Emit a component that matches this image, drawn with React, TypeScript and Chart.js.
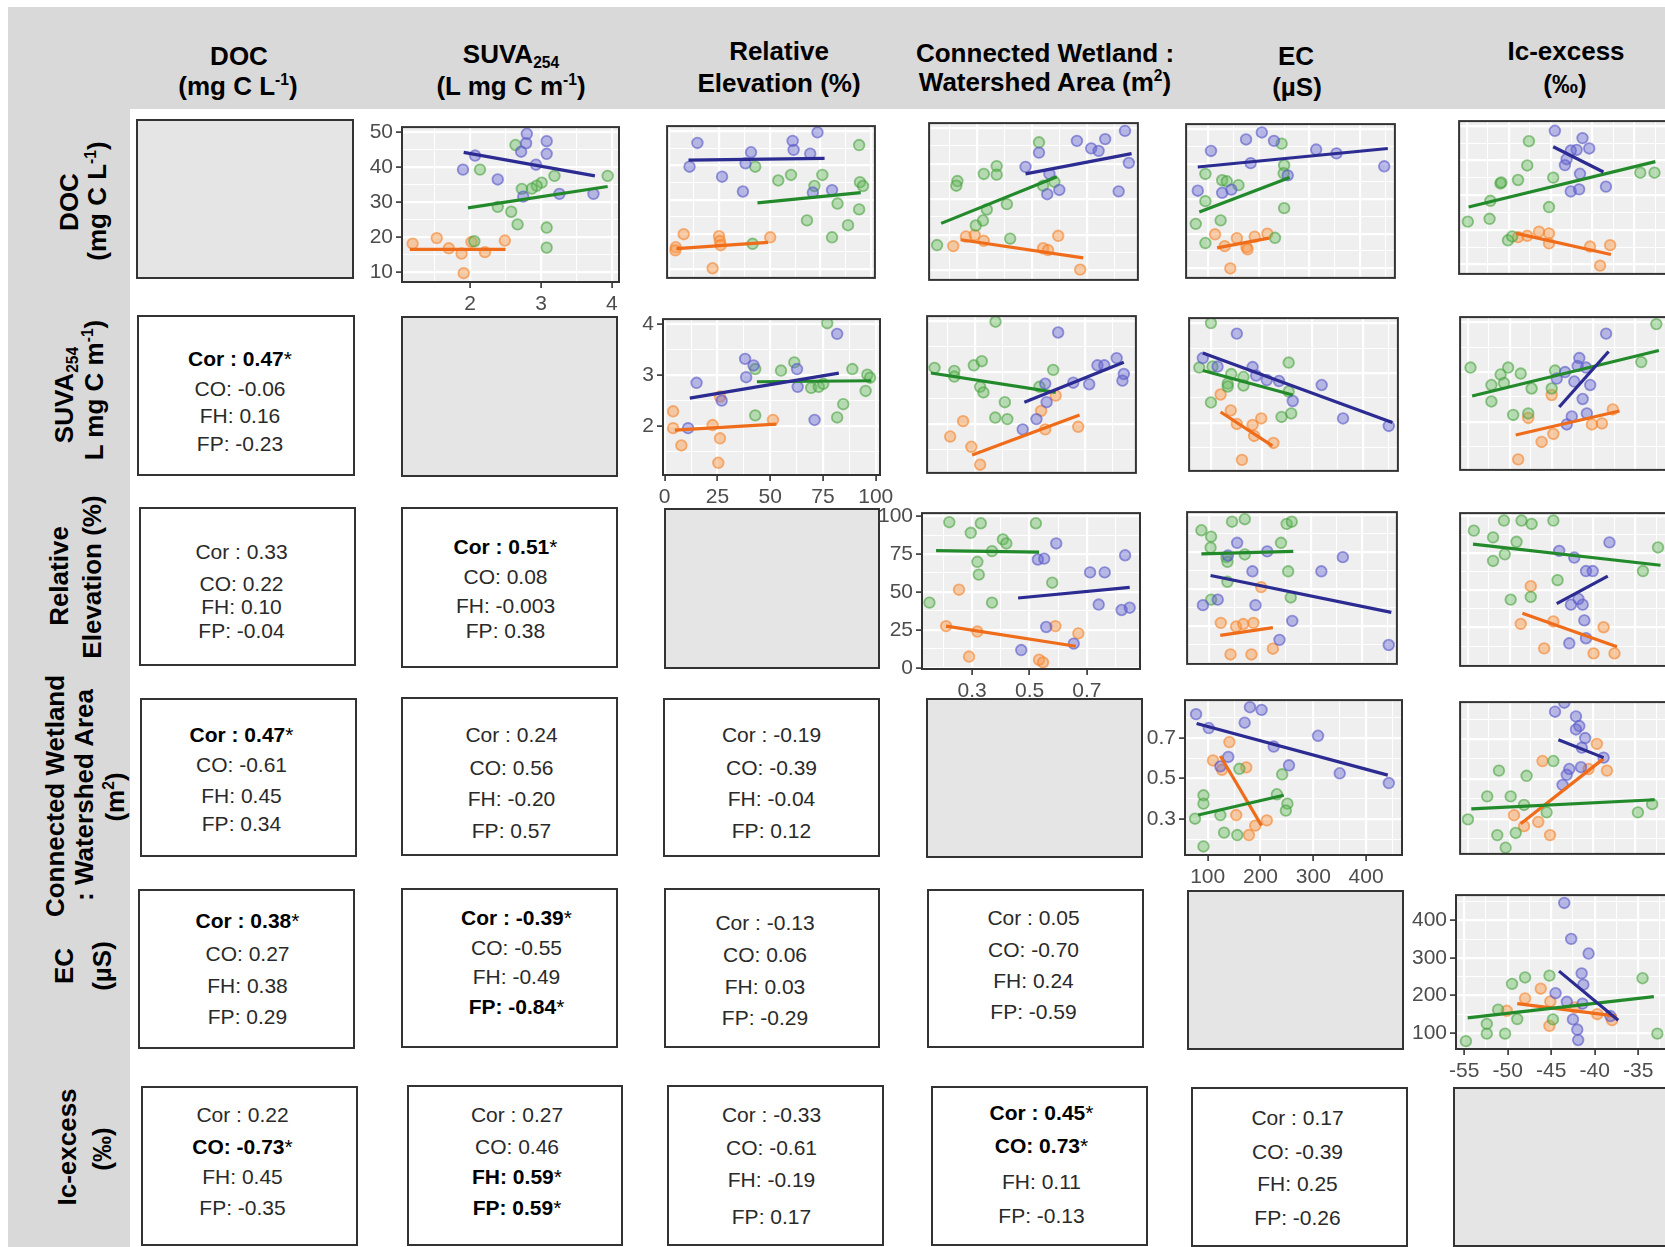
import React, { useEffect, useRef } from "react";
import { Chart, registerables } from "chart.js";

Chart.register(...registerables);

const FONT = '"Liberation Sans", Arial, Helvetica, sans-serif';

/* ---------- variable scales: range, major breaks, minor breaks ---------- */
const docRange = [7.3, 51.4];
const docBreaks = [10, 20, 30, 40, 50];
const docMinor = [15, 25, 35, 45];

const suvaRange = [1.04, 4.1];
const suvaBreaks = [2, 3, 4];
const suvaMinor = [1.5, 2.5, 3.5];

const relRange = [-0.8, 102];
const relBreaks = [0, 25, 50, 75, 100];
const relMinor = [12.5, 37.5, 62.5, 87.5];

const cwRange = [0.125, 0.885];
const cwBreaks = [0.3, 0.5, 0.7];
const cwMinor = [0.2, 0.4, 0.6, 0.8];

const ecRange = [57, 468];
const ecBreaks = [100, 200, 300, 400];
const ecMinor = [150, 250, 350, 450];

const icxRange = [-55.94, -31.0];
const icxBreaks = [-55, -50, -45, -40, -35];
const icxMinor = [-52.5, -47.5, -42.5, -37.5, -32.5];

const AXES: any = {
  DOC: { range: docRange, major: docBreaks, minor: docMinor },
  SUVA: { range: suvaRange, major: suvaBreaks, minor: suvaMinor },
  REL: { range: relRange, major: relBreaks, minor: relMinor },
  CW: { range: cwRange, major: cwBreaks, minor: cwMinor },
  EC: { range: ecRange, major: ecBreaks, minor: ecMinor },
  ICX: { range: icxRange, major: icxBreaks, minor: icxMinor },
};

/* ---------- groups ---------- */
const groups = ["CO", "FH", "FP"];
const pointFill = ["rgba(100,100,210,0.42)", "rgba(100,185,90,0.42)", "rgba(250,150,70,0.45)"];
const pointEdge = ["rgba(90,90,200,0.62)", "rgba(70,160,60,0.58)", "rgba(245,130,40,0.6)"];
const fitColor = ["#2b2b92", "#238a2b", "#ef6c1a"];

/* ---------- scatter data: [x, y] per site, fits: [x0, y0, x1, y1] ---------- */
// DOC vs SUVA254
const docSuvaCO = [[1.9, 39.3], [2.07, 43.3], [2.39, 36.5], [2.72, 44.4], [2.79, 46.8], [2.8, 49.5], [3.08, 47.4], [3.08, 43.8], [2.93, 40.7], [3.26, 32.4], [2.75, 31.6], [3.74, 32.4]];
const docSuvaFH = [[2.64, 46.3], [2.14, 39.3], [3.19, 37.5], [3.01, 35.6], [2.94, 34.7], [2.87, 33.9], [2.73, 33.8], [3.94, 37.5], [2.39, 28.7], [2.58, 27.3], [2.67, 23.7], [3.08, 22.8], [3.08, 17.1], [2.06, 18.9]];
const docSuvaFP = [[1.19, 18.2], [1.53, 19.8], [1.7, 16.9], [1.88, 15.4], [2.02, 18.7], [2.21, 15.8], [2.49, 19.1], [1.91, 9.8]];
const docSuvaFits = [[1.91, 44.2, 3.76, 37.5], [1.97, 28.4, 3.94, 34.5], [1.15, 16.6, 2.5, 16.6]];

// DOC vs relative elevation
const docRelCO = [[14.2, 46.5], [10.3, 39.6], [26.4, 36.7], [36.7, 32.4], [40.7, 43.8], [38.0, 40.6], [61.3, 47.1], [61.8, 44.5], [70.0, 43.4], [73.6, 49.6], [71.3, 32.1], [80.8, 32.8]];
const docRelFH = [[42.8, 39.6], [54.2, 35.6], [60.5, 37.2], [76.0, 37.2], [72.1, 34.0], [94.2, 45.9], [94.6, 35.1], [96.1, 34.0], [83.5, 28.9], [94.2, 27.2], [88.7, 22.6], [68.4, 24.0], [80.8, 19.1], [41.5, 17.2]];
const docRelFP = [[7.4, 20.0], [3.5, 16.2], [3.3, 15.3], [24.9, 19.4], [25.3, 18.0], [25.7, 16.8], [50.2, 19.1], [21.7, 10.1]];
const docRelFits = [[9.8, 41.5, 77.1, 42.0], [43.9, 29.1, 95.0, 32.1], [3.8, 15.8, 49.1, 17.6]];

// DOC vs connected wetland : watershed area
const docCwCO = [[0.663, 46.4], [0.715, 44.3], [0.742, 43.6], [0.766, 46.9], [0.838, 49.2], [0.852, 40.2], [0.476, 39.1], [0.563, 37.1], [0.555, 31.4], [0.599, 32.6], [0.815, 32.2], [0.525, 43.1]];
const docCwFH = [[0.525, 46.0], [0.371, 39.3], [0.371, 36.9], [0.324, 37.1], [0.228, 35.1], [0.224, 33.8], [0.408, 28.6], [0.335, 27.1], [0.321, 24.0], [0.295, 22.6], [0.581, 34.9], [0.54, 33.8], [0.154, 17.1], [0.42, 18.9]];
const docCwFP = [[0.213, 16.8], [0.259, 19.5], [0.291, 19.9], [0.324, 18.3], [0.54, 16.2], [0.558, 15.7], [0.595, 19.7], [0.675, 10.2]];
const docCwFits = [[0.476, 37.1, 0.862, 42.8], [0.169, 23.2, 0.59, 36.3], [0.24, 18.6, 0.686, 13.5]];

// DOC vs EC
const docEcCO = [[106, 43.7], [175, 47.0], [206, 49.0], [230, 46.6], [184, 40.2], [313, 44.1], [353, 43.0], [447, 39.3], [80, 32.3], [128, 31.7], [146, 32.6], [257, 36.7]];
const docEcFH = [[245, 45.8], [250, 39.6], [249, 37.3], [95, 37.1], [128, 35.3], [137, 35.0], [160, 33.9], [95, 29.3], [125, 23.8], [76, 22.8], [95, 17.3], [250, 27.3], [232, 18.8]];
const docEcFP = [[114, 19.8], [133, 16.4], [157, 18.7], [176, 16.1], [178, 15.5], [192, 19.1], [217, 20.0], [144, 10.0]];
const docEcFits = [[80, 39.1, 454, 44.4], [83, 26.2, 261, 36.1], [118, 15.9, 220, 18.7]];

// DOC vs lc-excess
const docIcxCO = [[-44.5, 48.6], [-41.2, 46.5], [-40.4, 43.5], [-41.9, 43.1], [-42.6, 42.9], [-43.1, 40.4], [-43.3, 38.7], [-41.5, 36.2], [-42.6, 31.1], [-41.6, 31.7], [-38.4, 32.5]];
const docIcxFH = [[-47.6, 45.6], [-47.8, 38.6], [-48.9, 34.4], [-51.0, 33.4], [-50.9, 33.7], [-52.2, 28.4], [-54.9, 22.4], [-52.3, 23.2], [-45.2, 26.6], [-44.7, 35.1], [-34.3, 36.5], [-32.6, 36.5], [-50.1, 17.0], [-49.6, 18.1]];
const docIcxFP = [[-48.9, 17.9], [-47.8, 18.3], [-46.4, 19.5], [-45.2, 19.0], [-45.2, 16.1], [-40.3, 15.2], [-37.9, 15.6], [-39.1, 9.7]];
const docIcxFits = [[-44.7, 44.0, -38.7, 36.7], [-54.8, 26.6, -32.5, 39.7], [-49.1, 19.0, -37.8, 12.9]];

// SUVA254 vs relative elevation
const suvaRelCO = [[11.1, 1.96], [15.1, 2.85], [27.0, 2.5], [38.1, 3.32], [38.6, 2.96], [42.1, 3.19], [62.7, 3.12], [63.0, 2.77], [71.0, 2.12], [81.7, 3.81]];
const suvaRelFH = [[42.9, 3.12], [55.1, 3.09], [61.4, 3.25], [77.0, 4.02], [88.9, 3.12], [96.0, 3.01], [97.3, 2.95], [95.2, 2.69], [84.6, 2.43], [81.7, 2.17], [42.9, 2.21], [69.4, 2.75], [73.0, 2.77], [75.1, 2.83]];
const suvaRelFP = [[4.0, 2.29], [4.0, 1.96], [7.9, 1.62], [22.7, 2.02], [26.2, 2.58], [26.2, 1.76], [25.4, 1.28], [51.3, 2.12]];
const suvaRelFits = [[11.9, 2.55, 82.5, 3.04], [43.7, 2.87, 97.9, 2.89], [4.8, 1.92, 52.9, 2.04]];

// SUVA254 vs connected wetland : watershed area
const suvaCwCO = [[0.602, 3.78], [0.815, 3.28], [0.745, 3.14], [0.77, 3.14], [0.841, 2.97], [0.836, 2.84], [0.657, 2.8], [0.715, 2.77], [0.555, 2.78], [0.56, 2.42], [0.523, 2.09], [0.473, 1.89]];
const suvaCwFH = [[0.374, 3.99], [0.152, 3.09], [0.224, 3.03], [0.224, 2.92], [0.295, 3.14], [0.324, 3.22], [0.318, 2.72], [0.33, 2.61], [0.408, 2.42], [0.373, 2.12], [0.417, 2.09], [0.584, 3.05], [0.534, 2.72]];
const suvaCwFP = [[0.256, 2.05], [0.209, 1.75], [0.286, 1.55], [0.318, 1.2], [0.54, 2.25], [0.555, 1.89], [0.593, 2.55], [0.675, 1.94]];
const suvaCwFits = [[0.479, 2.42, 0.841, 3.2], [0.139, 2.99, 0.593, 2.61], [0.289, 1.39, 0.68, 2.17]];

// SUVA254 vs EC
const suvaEcCO = [[151, 3.79], [84, 3.3], [113, 3.13], [182, 3.12], [189, 2.95], [210, 2.86], [234, 2.84], [261, 2.44], [318, 2.76], [360, 2.09], [450, 1.94]];
const suvaEcFH = [[100, 4.0], [253, 3.21], [77, 3.11], [103, 3.13], [140, 2.98], [164, 2.92], [133, 2.79], [133, 2.73], [164, 2.75], [100, 2.41], [253, 2.63], [239, 2.12], [258, 2.19]];
const suvaEcFP = [[119, 2.57], [139, 2.25], [151, 1.98], [182, 1.96], [199, 2.09], [185, 1.74], [223, 1.6], [161, 1.26]];
const suvaEcFits = [[84, 3.4, 457, 2.01], [84, 3.05, 261, 2.56], [119, 2.22, 221, 1.54]];

// SUVA254 vs lc-excess
const suvaIcxCO = [[-38.5, 3.77], [-41.7, 3.28], [-41.9, 3.12], [-40.9, 3.09], [-43.4, 3.0], [-44.4, 2.87], [-42.3, 2.81], [-40.4, 2.74], [-41.3, 2.46], [-40.8, 2.17], [-42.6, 2.11], [-43.2, 1.95]];
const suvaIcxFH = [[-54.7, 3.09], [-50.2, 3.09], [-51.1, 2.95], [-48.7, 2.97], [-52.2, 2.74], [-50.7, 2.78], [-47.4, 2.67], [-52.2, 2.41], [-45.0, 2.67], [-44.6, 3.03], [-34.3, 3.2], [-32.5, 3.96], [-49.6, 2.14], [-47.8, 2.17]];
const suvaIcxFP = [[-45.0, 2.54], [-47.8, 2.08], [-44.8, 1.76], [-46.2, 1.6], [-40.2, 1.95], [-39.0, 1.97], [-37.7, 2.25], [-49.0, 1.25]];
const suvaIcxFits = [[-44.1, 2.3, -38.2, 3.41], [-54.5, 2.52, -32.2, 3.43], [-49.3, 1.74, -36.9, 2.22]];

// Relative elevation vs connected wetland : watershed area
const relCwCO = [[0.593, 82.0], [0.833, 74.2], [0.529, 71.4], [0.551, 72.0], [0.711, 62.9], [0.762, 62.9], [0.741, 41.7], [0.821, 38.1], [0.849, 39.6], [0.558, 26.9], [0.654, 15.9], [0.471, 11.7]];
const relCwFH = [[0.22, 96.0], [0.33, 95.3], [0.295, 89.0], [0.522, 95.3], [0.407, 84.7], [0.419, 82.0], [0.369, 76.9], [0.318, 69.9], [0.323, 61.4], [0.579, 56.1], [0.151, 43.0], [0.369, 43.0]];
const relCwFP = [[0.254, 51.5], [0.209, 27.5], [0.318, 23.9], [0.289, 7.4], [0.59, 27.5], [0.67, 22.7], [0.533, 5.3], [0.547, 3.6]];
const relCwFits = [[0.46, 46.0, 0.849, 53.0], [0.174, 77.3, 0.533, 76.3], [0.209, 27.5, 0.661, 14.2]];

// Relative elevation vs EC
const relEcCO = [[155, 81.2], [214, 75.4], [362, 71.5], [185, 61.9], [320, 61.9], [137, 72.6], [117, 42.7], [88, 39.0], [191, 39.0], [263, 28.3], [238, 15.5], [452, 12.0]];
const relEcFH = [[145, 95.5], [170, 97.2], [252, 94.0], [262, 95.5], [85, 89.7], [104, 85.4], [103, 78.0], [241, 81.2], [134, 71.5], [136, 68.3], [170, 73.3], [255, 61.9], [136, 54.8], [260, 44.2], [104, 42.7]];
const relEcFP = [[202, 51.2], [123, 27.0], [153, 24.5], [167, 26.2], [187, 27.0], [142, 5.6], [183, 5.6], [225, 9.5]];
const relEcFits = [[103, 59.1, 457, 34.1], [85, 73.7, 265, 75.4], [122, 18.5, 225, 23.8]];

// Relative elevation vs lc-excess
const relIcxCO = [[-38.1, 82.3], [-44.1, 76.6], [-42.3, 72.1], [-40.9, 63.0], [-40.1, 63.0], [-41.8, 44.2], [-42.7, 40.4], [-41.3, 40.4], [-41.1, 29.8], [-40.9, 17.8], [-42.9, 14.4]];
const relIcxFH = [[-54.3, 90.2], [-50.7, 97.0], [-48.6, 97.0], [-47.4, 94.7], [-44.8, 97.0], [-52.0, 85.7], [-49.2, 82.7], [-50.6, 74.3], [-52.0, 69.8], [-44.3, 56.9], [-49.9, 43.8], [-47.5, 45.6], [-32.3, 78.9], [-34.1, 63.0]];
const relIcxFP = [[-47.5, 52.8], [-48.7, 27.5], [-44.8, 29.1], [-38.8, 25.2], [-45.9, 11.0], [-40.0, 7.6], [-37.5, 7.6]];
const relIcxFits = [[-44.4, 41.1, -38.3, 59.6], [-54.4, 81.1, -32.0, 66.9], [-48.5, 34.7, -37.2, 12.1]];

// Connected wetland : watershed area vs EC
const cwEcCO = [[78, 0.816], [102, 0.748], [180, 0.85], [202, 0.837], [170, 0.774], [139, 0.606], [124, 0.56], [225, 0.657], [254, 0.565], [309, 0.71], [350, 0.526], [443, 0.478]];
const cwEcFH = [[92, 0.418], [92, 0.377], [76, 0.303], [160, 0.548], [241, 0.521], [231, 0.423], [251, 0.377], [248, 0.343], [124, 0.321], [131, 0.235], [156, 0.223], [92, 0.167]];
const cwEcFP = [[141, 0.679], [110, 0.589], [127, 0.543], [173, 0.555], [154, 0.321], [190, 0.269], [212, 0.295], [178, 0.223]];
const cwEcFits = [[79, 0.77, 441, 0.517], [82, 0.321, 244, 0.418], [124, 0.611, 202, 0.269]];

// Connected wetland : watershed area vs lc-excess
const cwIcxCO = [[-43.5, 0.882], [-44.6, 0.837], [-42.1, 0.813], [-41.7, 0.765], [-42.1, 0.748], [-41.0, 0.705], [-41.4, 0.657], [-38.8, 0.607], [-41.5, 0.559], [-42.9, 0.55], [-43.2, 0.521], [-43.7, 0.47]];
const cwIcxFH = [[-51.3, 0.542], [-48.0, 0.516], [-44.8, 0.59], [-52.7, 0.413], [-49.9, 0.413], [-48.3, 0.37], [-45.6, 0.333], [-55.0, 0.298], [-51.5, 0.219], [-49.3, 0.23], [-50.5, 0.156], [-34.7, 0.333], [-33.0, 0.374]];
const cwIcxFP = [[-39.6, 0.676], [-46.1, 0.59], [-38.4, 0.542], [-40.6, 0.55], [-49.5, 0.319], [-48.3, 0.264], [-46.6, 0.285], [-45.2, 0.219]];
const cwIcxFits = [[-44.2, 0.696, -38.8, 0.607], [-54.6, 0.35, -32.7, 0.396], [-48.7, 0.276, -38.8, 0.602]];

// EC vs lc-excess
const ecIcxCO = [[-43.5, 447], [-42.7, 351], [-40.7, 312], [-41.5, 259], [-41.3, 229], [-44.5, 206], [-43.2, 183], [-41.4, 178], [-42.5, 136], [-42.0, 109], [-41.9, 81], [-38.2, 145]];
const ecIcxFH = [[-48.0, 248], [-49.5, 231], [-45.2, 253], [-34.5, 246], [-51.1, 162], [-48.9, 137], [-44.8, 136], [-52.4, 124], [-52.4, 98], [-50.3, 98], [-54.8, 78], [-32.8, 98]];
const ecIcxFP = [[-46.2, 218], [-48.0, 192], [-50.1, 159], [-45.1, 184], [-42.3, 168], [-39.7, 150], [-38.0, 134], [-45.2, 119]];
const ecIcxFits = [[-44.1, 265, -37.3, 134], [-54.6, 140, -33.2, 197], [-48.9, 178, -37.5, 145]];

/* ---------- correlation text: [Cor, CO, FH, FP] and significance flags ---------- */
const corSuvaDoc = ["0.47", "-0.06", "0.16", "-0.23"];
const sigSuvaDoc = [1, 0, 0, 0];
const corRelDoc = ["0.33", "0.22", "0.10", "-0.04"];
const sigRelDoc = [0, 0, 0, 0];
const corRelSuva = ["0.51", "0.08", "-0.003", "0.38"];
const sigRelSuva = [1, 0, 0, 0];
const corCwDoc = ["0.47", "-0.61", "0.45", "0.34"];
const sigCwDoc = [1, 0, 0, 0];
const corCwSuva = ["0.24", "0.56", "-0.20", "0.57"];
const sigCwSuva = [0, 0, 0, 0];
const corCwRel = ["-0.19", "-0.39", "-0.04", "0.12"];
const sigCwRel = [0, 0, 0, 0];
const corEcDoc = ["0.38", "0.27", "0.38", "0.29"];
const sigEcDoc = [1, 0, 0, 0];
const corEcSuva = ["-0.39", "-0.55", "-0.49", "-0.84"];
const sigEcSuva = [1, 0, 0, 1];
const corEcRel = ["-0.13", "0.06", "0.03", "-0.29"];
const sigEcRel = [0, 0, 0, 0];
const corEcCw = ["0.05", "-0.70", "0.24", "-0.59"];
const sigEcCw = [0, 0, 0, 0];
const corIcxDoc = ["0.22", "-0.73", "0.45", "-0.35"];
const sigIcxDoc = [0, 1, 0, 0];
const corIcxSuva = ["0.27", "0.46", "0.59", "0.59"];
const sigIcxSuva = [0, 0, 1, 1];
const corIcxRel = ["-0.33", "-0.61", "-0.19", "0.17"];
const sigIcxRel = [0, 0, 0, 0];
const corIcxCw = ["0.45", "0.73", "0.11", "-0.13"];
const sigIcxCw = [1, 1, 0, 0];
const corIcxEc = ["0.17", "-0.39", "0.25", "-0.26"];
const sigIcxEc = [0, 0, 0, 0];

const corPrefix = ["Cor : ", "CO: ", "FH: ", "FP: "];

/* ---------- panel descriptions ---------- */
const SCATTERS = [
  { key: "0,1", x: "SUVA", y: "DOC", pts: [docSuvaCO, docSuvaFH, docSuvaFP], fits: docSuvaFits, axes: true },
  { key: "0,2", x: "REL", y: "DOC", pts: [docRelCO, docRelFH, docRelFP], fits: docRelFits, axes: false },
  { key: "0,3", x: "CW", y: "DOC", pts: [docCwCO, docCwFH, docCwFP], fits: docCwFits, axes: false },
  { key: "0,4", x: "EC", y: "DOC", pts: [docEcCO, docEcFH, docEcFP], fits: docEcFits, axes: false },
  { key: "0,5", x: "ICX", y: "DOC", pts: [docIcxCO, docIcxFH, docIcxFP], fits: docIcxFits, axes: false },
  { key: "1,2", x: "REL", y: "SUVA", pts: [suvaRelCO, suvaRelFH, suvaRelFP], fits: suvaRelFits, axes: true },
  { key: "1,3", x: "CW", y: "SUVA", pts: [suvaCwCO, suvaCwFH, suvaCwFP], fits: suvaCwFits, axes: false },
  { key: "1,4", x: "EC", y: "SUVA", pts: [suvaEcCO, suvaEcFH, suvaEcFP], fits: suvaEcFits, axes: false },
  { key: "1,5", x: "ICX", y: "SUVA", pts: [suvaIcxCO, suvaIcxFH, suvaIcxFP], fits: suvaIcxFits, axes: false },
  { key: "2,3", x: "CW", y: "REL", pts: [relCwCO, relCwFH, relCwFP], fits: relCwFits, axes: true },
  { key: "2,4", x: "EC", y: "REL", pts: [relEcCO, relEcFH, relEcFP], fits: relEcFits, axes: false },
  { key: "2,5", x: "ICX", y: "REL", pts: [relIcxCO, relIcxFH, relIcxFP], fits: relIcxFits, axes: false },
  { key: "3,4", x: "EC", y: "CW", pts: [cwEcCO, cwEcFH, cwEcFP], fits: cwEcFits, axes: true },
  { key: "3,5", x: "ICX", y: "CW", pts: [cwIcxCO, cwIcxFH, cwIcxFP], fits: cwIcxFits, axes: false },
  { key: "4,5", x: "ICX", y: "EC", pts: [ecIcxCO, ecIcxFH, ecIcxFP], fits: ecIcxFits, axes: true },
];

const COR_CELLS = [
  { key: "1,0", vals: corSuvaDoc, sig: sigSuvaDoc },
  { key: "2,0", vals: corRelDoc, sig: sigRelDoc },
  { key: "2,1", vals: corRelSuva, sig: sigRelSuva },
  { key: "3,0", vals: corCwDoc, sig: sigCwDoc },
  { key: "3,1", vals: corCwSuva, sig: sigCwSuva },
  { key: "3,2", vals: corCwRel, sig: sigCwRel },
  { key: "4,0", vals: corEcDoc, sig: sigEcDoc },
  { key: "4,1", vals: corEcSuva, sig: sigEcSuva },
  { key: "4,2", vals: corEcRel, sig: sigEcRel },
  { key: "4,3", vals: corEcCw, sig: sigEcCw },
  { key: "5,0", vals: corIcxDoc, sig: sigIcxDoc },
  { key: "5,1", vals: corIcxSuva, sig: sigIcxSuva },
  { key: "5,2", vals: corIcxRel, sig: sigIcxRel },
  { key: "5,3", vals: corIcxCw, sig: sigIcxCw },
  { key: "5,4", vals: corIcxEc, sig: sigIcxEc },
];

/* ---------- layout (page pixels) ---------- */
const SCATTER_BOX: any = {
  "0,1": [402, 123, 217, 159],
  "0,2": [663, 122, 216, 160],
  "0,3": [925, 119, 217, 165],
  "0,4": [1182, 120, 217, 162],
  "0,5": [1455, 117, 217, 161],
  "1,2": [663, 315, 217, 160],
  "1,3": [923, 312, 217, 165],
  "1,4": [1185, 314, 217, 161],
  "1,5": [1456, 313, 217, 161],
  "2,3": [922, 509, 218, 160],
  "2,4": [1183, 508, 218, 160],
  "2,5": [1456, 509, 217, 161],
  "3,4": [1185, 696, 217, 159],
  "3,5": [1456, 698, 217, 160],
  "4,5": [1456, 891, 217, 158],
};

const DIAG_BOX = [
  [136, 119, 218, 160],
  [401, 316, 217, 161],
  [664, 508, 216, 161],
  [926, 698, 217, 160],
  [1187, 890, 217, 160],
  [1453, 1087, 217, 160],
];

// box, horizontal text shift, line centres measured from the box top
const TEXT_BOX: any = {
  "1,0": { box: [137, 315, 218, 161], dx: -6, ys: [44, 74, 101, 129] },
  "2,0": { box: [139, 507, 217, 159], dx: -6, ys: [45, 77, 100, 124] },
  "2,1": { box: [401, 507, 217, 161], dx: -4, ys: [40, 70, 99, 124] },
  "3,0": { box: [140, 698, 217, 159], dx: -7, ys: [37, 67, 98, 126] },
  "3,1": { box: [401, 697, 217, 159], dx: 2, ys: [38, 71, 102, 134] },
  "3,2": { box: [663, 698, 217, 159], dx: 0, ys: [37, 70, 101, 133] },
  "4,0": { box: [138, 889, 217, 160], dx: 1, ys: [32, 65, 97, 128] },
  "4,1": { box: [401, 888, 217, 160], dx: 7, ys: [30, 60, 89, 119] },
  "4,2": { box: [664, 888, 216, 160], dx: -7, ys: [35, 67, 99, 130] },
  "4,3": { box: [927, 889, 217, 159], dx: -2, ys: [29, 61, 92, 123] },
  "5,0": { box: [141, 1086, 217, 160], dx: -7, ys: [29, 61, 91, 122] },
  "5,1": { box: [407, 1085, 216, 161], dx: 2, ys: [30, 62, 92, 123] },
  "5,2": { box: [667, 1085, 217, 161], dx: -4, ys: [30, 63, 95, 132] },
  "5,3": { box: [931, 1086, 217, 160], dx: 2, ys: [27, 60, 96, 130] },
  "5,4": { box: [1191, 1087, 217, 160], dx: -2, ys: [31, 65, 97, 131] },
};

/* ---------- small text helpers ---------- */
const Sup = ({ children }: any) => (
  <span style={{ fontSize: "0.6em", position: "relative", top: "-0.62em" }}>{children}</span>
);
const Sub = ({ children }: any) => (
  <span style={{ fontSize: "0.6em", position: "relative", top: "0.32em" }}>{children}</span>
);

const HEADERS = [
  { cx: 239, cy: 56, text: <>DOC</> },
  { cx: 238, cy: 88, text: <>(mg C L<Sup>-1</Sup>)</> },
  { cx: 511, cy: 56, text: <>SUVA<Sub>254</Sub></> },
  { cx: 511, cy: 88, text: <>(L mg C m<Sup>-1</Sup>)</> },
  { cx: 779, cy: 51, text: <>Relative</> },
  { cx: 779, cy: 83, text: <>Elevation (%)</> },
  { cx: 1045, cy: 53, text: <>Connected Wetland :</> },
  { cx: 1045, cy: 84, text: <>Watershed Area (m<Sup>2</Sup>)</> },
  { cx: 1296, cy: 56, text: <>EC</> },
  { cx: 1297, cy: 87, text: <>(µS)</> },
  { cx: 1566, cy: 51, text: <>Ic-excess</> },
  { cx: 1565, cy: 84, text: <>(‰)</> },
];

const ROW_LABELS = [
  { cx: 69, cy: 202, text: <>DOC</> },
  { cx: 99, cy: 201, text: <>(mg C L<Sup>-1</Sup>)</> },
  { cx: 66, cy: 395, text: <>SUVA<Sub>254</Sub></> },
  { cx: 96, cy: 390, text: <>L mg C m<Sup>-1</Sup>)</> },
  { cx: 59, cy: 576, text: <>Relative</> },
  { cx: 92, cy: 577, text: <>Elevation (%)</> },
  { cx: 55, cy: 796, text: <>Connected Wetland</> },
  { cx: 84, cy: 795, text: <>: Watershed Area</> },
  { cx: 117, cy: 797, text: <>(m<Sup>2</Sup>)</> },
  { cx: 64, cy: 966, text: <>EC</> },
  { cx: 102, cy: 966, text: <>(µS)</> },
  { cx: 67, cy: 1147, text: <>Ic-excess</> },
  { cx: 102, cy: 1149, text: <>(‰)</> },
];

/* ---------- chart helpers ---------- */
const isIn = (list: number[], v: number) => list.some((m) => Math.abs(m - v) < 1e-9);

function scaleOptions(name: string, isX: boolean, show: boolean, size: number) {
  const a = AXES[name];
  const all = [...a.major, ...a.minor].sort((p: number, q: number) => p - q);
  const major = (c: any) => !!(c && c.tick && isIn(a.major, c.tick.value));
  return {
    type: "linear",
    position: isX ? "bottom" : "left",
    min: a.range[0],
    max: a.range[1],
    bounds: "data",
    afterBuildTicks: (s: any) => {
      s.ticks = all.map((value: number) => ({ value }));
    },
    afterFit: (s: any) => {
      if (isX) s.height = size;
      else s.width = size;
      s.paddingLeft = 0;
      s.paddingRight = 0;
      s.paddingTop = 0;
      s.paddingBottom = 0;
    },
    border: { display: false },
    grid: {
      color: "#ffffff",
      lineWidth: (c: any) => (major(c) ? 2.2 : 1.1),
      drawTicks: show,
      tickLength: 6,
      tickWidth: 1.6,
      tickColor: (c: any) => (major(c) ? "#333333" : "rgba(0,0,0,0)"),
    },
    ticks: {
      display: show,
      autoSkip: false,
      maxRotation: 0,
      minRotation: 0,
      padding: isX ? 4 : 3,
      color: "#4d4d4d",
      font: { family: FONT, size: 21 },
      callback: (v: number) => (isIn(a.major, v) ? String(v) : ""),
    },
  };
}

const panelFrame = {
  id: "panelFrame",
  beforeDraw(chart: any) {
    const { ctx, chartArea: a } = chart;
    ctx.save();
    ctx.fillStyle = "#efefef";
    ctx.fillRect(a.left, a.top, a.right - a.left, a.bottom - a.top);
    ctx.restore();
  },
  afterDraw(chart: any) {
    const { ctx, chartArea: a } = chart;
    ctx.save();
    ctx.strokeStyle = "#333333";
    ctx.lineWidth = 2;
    ctx.strokeRect(a.left, a.top, a.right - a.left, a.bottom - a.top);
    ctx.restore();
  },
};

function ScatterPanel({ spec }: any) {
  const ref = useRef<HTMLCanvasElement>(null);
  const [l, t, w, h] = SCATTER_BOX[spec.key];
  const padL = spec.axes ? 56 : 3;
  const padB = spec.axes ? 38 : 3;
  const padT = 3;
  const padR = spec.axes ? 14 : 3;
  const cw = w + padL + padR;
  const ch = h + padT + padB;

  useEffect(() => {
    const datasets: any[] = [];
    groups.forEach((g, gi) => {
      const f = spec.fits[gi];
      datasets.push({
        label: g + " fit",
        data: [{ x: f[0], y: f[1] }, { x: f[2], y: f[3] }],
        showLine: true,
        borderColor: fitColor[gi],
        borderWidth: 3.2,
        pointRadius: 0,
        order: 0,
        clip: 0,
      });
    });
    groups.forEach((g, gi) => {
      datasets.push({
        label: g,
        data: spec.pts[gi].map((p: number[]) => ({ x: p[0], y: p[1] })),
        backgroundColor: pointFill[gi],
        borderColor: pointEdge[gi],
        borderWidth: 1.8,
        pointRadius: 5.3,
        order: 1,
        clip: 0,
      });
    });
    const chart = new Chart(ref.current as HTMLCanvasElement, {
      type: "scatter",
      data: { datasets },
      options: {
        animation: false,
        responsive: false,
        maintainAspectRatio: false,
        devicePixelRatio: 1,
        events: [],
        layout: { padding: { top: padT, right: padR, left: 0, bottom: 0 } },
        plugins: { legend: { display: false }, tooltip: { enabled: false } },
        scales: {
          x: scaleOptions(spec.x, true, spec.axes, padB),
          y: scaleOptions(spec.y, false, spec.axes, padL),
        },
      } as any,
      plugins: [panelFrame],
    });
    return () => chart.destroy();
  }, []);

  return (
    <canvas
      ref={ref}
      width={cw}
      height={ch}
      style={{ position: "absolute", left: l - padL, top: t - padT, width: cw, height: ch }}
    />
  );
}

function CorBox({ cell }: any) {
  const { box, dx, ys } = TEXT_BOX[cell.key];
  return (
    <div
      style={{
        position: "absolute",
        left: box[0],
        top: box[1],
        width: box[2],
        height: box[3],
        boxSizing: "border-box",
        border: "2px solid #333",
        background: "#fff",
      }}
    >
      {cell.vals.map((v: string, k: number) => {
        const bold = cell.sig[k] === 1;
        return (
          <div
            key={k}
            style={{
              position: "absolute",
              left: dx,
              width: "100%",
              top: ys[k] - 14,
              height: 24,
              lineHeight: "24px",
              textAlign: "center",
              whiteSpace: "nowrap",
              fontFamily: FONT,
              fontSize: 21,
              fontWeight: bold ? 700 : 400,
              color: bold ? "#000" : "#2a2a2a",
            }}
          >
            {corPrefix[k] + v}
            {bold ? <span style={{ fontWeight: 400 }}>*</span> : null}
          </div>
        );
      })}
    </div>
  );
}

export default function App() {
  const textStyle: any = {
    position: "absolute",
    whiteSpace: "nowrap",
    fontFamily: FONT,
    fontWeight: 700,
    fontSize: 26,
    lineHeight: "28px",
    color: "#000",
  };
  return (
    <div
      style={{
        position: "absolute",
        left: 0,
        top: 0,
        width: 1665,
        height: 1247,
        overflow: "hidden",
        background: "#ffffff",
      }}
    >
      {/* strip backgrounds */}
      <div style={{ position: "absolute", left: 8, top: 7, width: 1657, height: 102, background: "#d9d9d9" }} />
      <div style={{ position: "absolute", left: 8, top: 7, width: 122, height: 1240, background: "#d9d9d9" }} />

      {HEADERS.map((hd, i) => (
        <div key={"h" + i} style={{ ...textStyle, left: hd.cx, top: hd.cy, transform: "translate(-50%, -50%)" }}>
          {hd.text}
        </div>
      ))}
      {ROW_LABELS.map((rl, i) => (
        <div
          key={"r" + i}
          style={{ ...textStyle, left: rl.cx, top: rl.cy, transform: "translate(-50%, -50%) rotate(-90deg)" }}
        >
          {rl.text}
        </div>
      ))}

      {DIAG_BOX.map((b, i) => (
        <div
          key={"d" + i}
          style={{
            position: "absolute",
            left: b[0],
            top: b[1],
            width: b[2],
            height: b[3],
            boxSizing: "border-box",
            border: "2px solid #333",
            background: "#e5e5e5",
          }}
        />
      ))}

      {COR_CELLS.map((c) => (
        <CorBox key={"c" + c.key} cell={c} />
      ))}

      {SCATTERS.map((s) => (
        <ScatterPanel key={"s" + s.key} spec={s} />
      ))}
    </div>
  );
}
